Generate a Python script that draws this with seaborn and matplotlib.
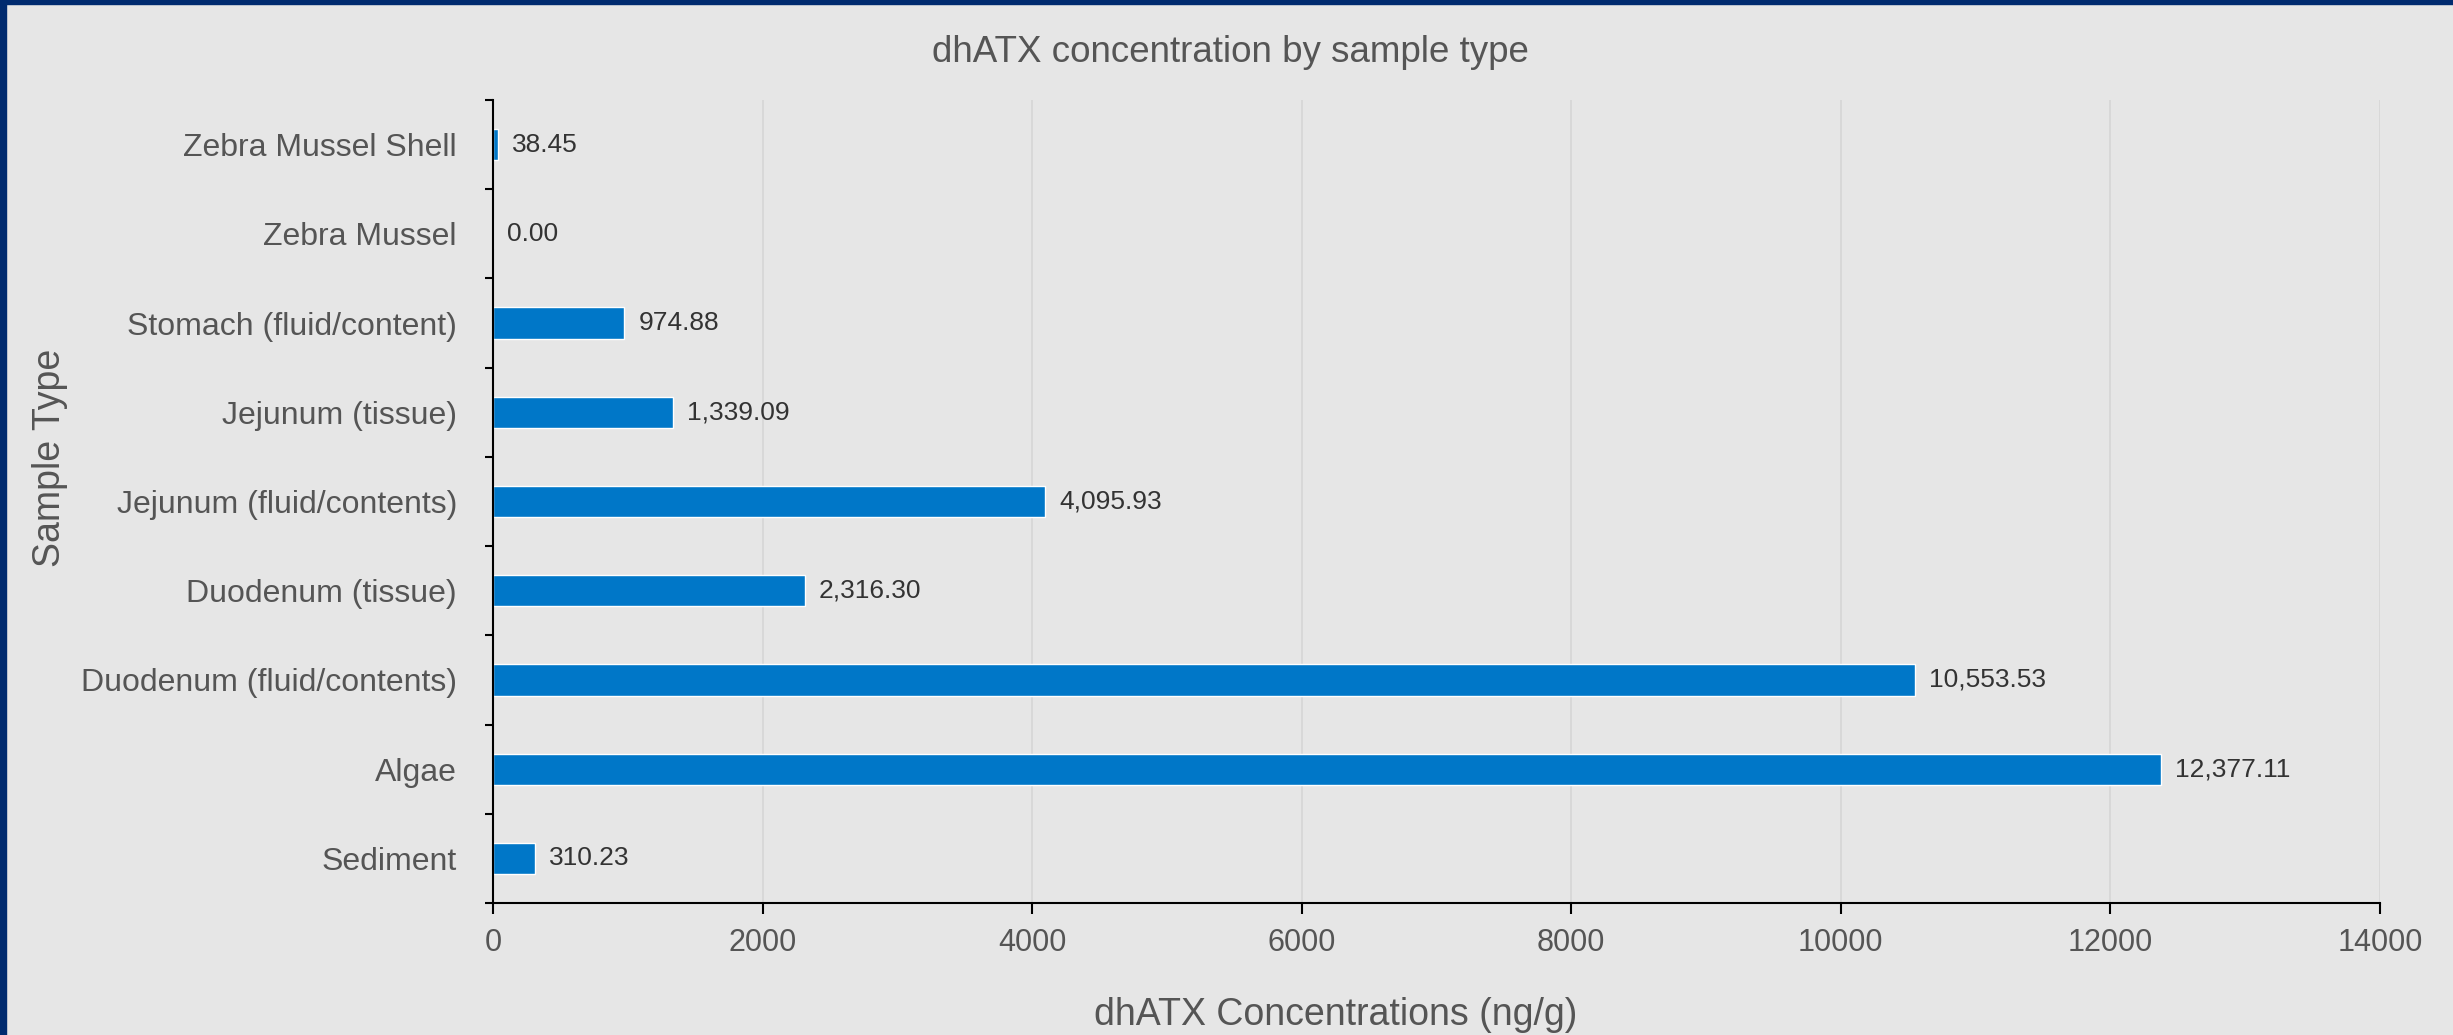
import numpy as np
import pandas as pd
import matplotlib
matplotlib.use("Agg")
import matplotlib.pyplot as plt
import seaborn as sns
from matplotlib.patches import Rectangle

# Data (top to bottom)
sample_types = [
    "Zebra Mussel Shell",
    "Zebra Mussel",
    "Stomach (fluid/content)",
    "Jejunum (tissue)",
    "Jejunum (fluid/contents)",
    "Duodenum (tissue)",
    "Duodenum (fluid/contents)",
    "Algae",
    "Sediment",
]
concentrations = [38.45, 0.00, 974.88, 1339.09, 4095.93, 2316.30, 10553.53, 12377.11, 310.23]
x_ticks = [0, 2000, 4000, 6000, 8000, 10000, 12000, 14000]

df = pd.DataFrame({"Sample Type": sample_types, "Concentration": concentrations})

bg = "#e6e6e6"
bar_color = "#0077c8"
text_color = "#555555"

sns.set_style("white")
plt.rcParams["font.family"] = ["Liberation Sans", "DejaVu Sans"]

fig = plt.figure(figsize=(24.53, 10.35), dpi=100, facecolor=bg)
W, H = 2453, 1035
ax = fig.add_axes([493 / W, 1 - 903 / H, (2380 - 493) / W, (903 - 100) / H])
ax.set_facecolor(bg)

sns.barplot(data=df, x="Concentration", y="Sample Type", color=bar_color,
            saturation=1, width=0.35, ax=ax, orient="h")

ax.set_xlim(0, 14000)
ax.set_ylim(len(sample_types) - 0.5, -0.5)
ax.set_xticks(x_ticks)
ax.set_xticklabels([str(t) for t in x_ticks])
# category boundaries get the small tick marks, labels sit at the centres
ax.set_yticks(np.arange(-0.5, len(sample_types), 1.0), minor=True)
ax.tick_params(axis="y", which="major", left=True, length=0, pad=26, labelsize=23,
               labelcolor=text_color)
ax.tick_params(axis="y", which="minor", left=True, length=6, width=1.5, color="black",
               direction="out")
ax.tick_params(axis="x", which="major", bottom=True, length=8, width=1.5, color="black",
               direction="out", pad=10, labelsize=22, labelcolor=text_color)

ax.xaxis.grid(True, color="#d6d6d6", linewidth=1.2)
ax.set_axisbelow(True)
for side in ["top", "right"]:
    ax.spines[side].set_visible(False)
for side in ["left", "bottom"]:
    ax.spines[side].set_color("black")
    ax.spines[side].set_linewidth(1.5)

ax.set_xlabel("")
ax.set_ylabel("")

for cont in ax.containers:
    ax.bar_label(cont, labels=[f"{v:,.2f}" for v in concentrations], padding=10,
                 fontsize=19, color="#333333")

fig.text(1230 / W, 1 - 52 / H, "dhATX concentration by sample type", ha="center", va="center",
         fontsize=26.5, color=text_color)
fig.text(1336 / W, 1 - 1015 / H, "dhATX Concentrations (ng/g)", ha="center", va="center",
         fontsize=27, color=text_color)
fig.text(50 / W, 1 - 458 / H, "Sample Type", ha="center", va="center", rotation=90,
         fontsize=27, color=text_color)

# navy frame on the top and left edges
fig.patches.append(Rectangle((0, 0), 6 / W, 1, transform=fig.transFigure, color="#002b6f", zorder=10))
fig.patches.append(Rectangle((0, 1 - 4 / H), 1, 4 / H, transform=fig.transFigure, color="#002b6f", zorder=10))

fig.savefig("out.png", dpi=100, facecolor=bg)
